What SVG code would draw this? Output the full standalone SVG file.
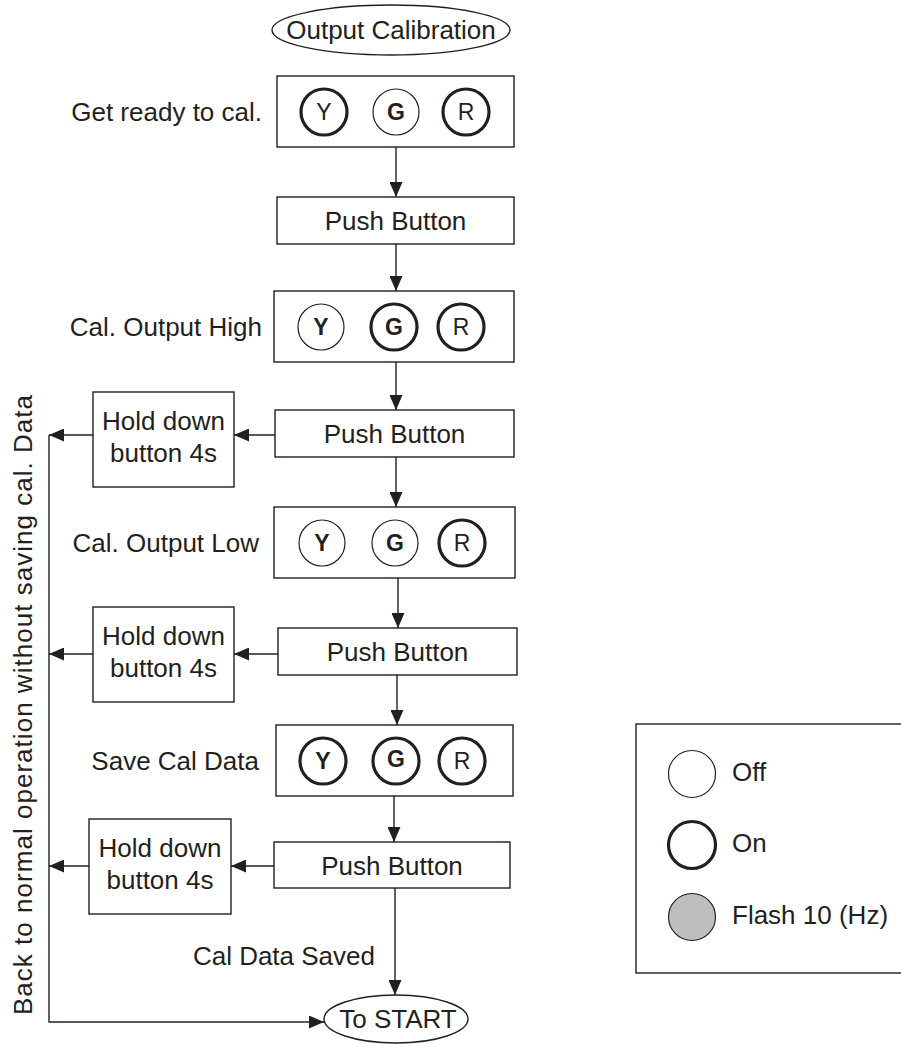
<svg xmlns="http://www.w3.org/2000/svg" width="901" height="1044" viewBox="0 0 901 1044">
<defs>
<style>
.bx{fill:#fff;stroke:#231f20;stroke-width:1.4}
.t{font-family:"Liberation Sans",Arial,sans-serif;font-size:26px;fill:#231f20}
.m{text-anchor:middle}
.e{text-anchor:end}
.off{fill:#fff;stroke:#231f20;stroke-width:1.2}
.on{fill:#fff;stroke:#231f20;stroke-width:3.2}
.fl{fill:#bcbec0;stroke:#231f20;stroke-width:1.2}
.cl{font-family:"Liberation Sans",Arial,sans-serif;font-size:23px;fill:#231f20;text-anchor:middle}
.b{font-weight:bold}
.ln{fill:none;stroke:#231f20;stroke-width:1.4}
</style>
<marker id="ah" markerWidth="15" markerHeight="13" refX="15" refY="6.5" orient="auto" markerUnits="userSpaceOnUse">
<path d="M0,0 L15,6.5 L0,13 Z" fill="#231f20"/>
</marker>
</defs>
<rect width="901" height="1044" fill="#fff"/>

<g id="start">
<ellipse cx="391" cy="30" rx="119" ry="25" class="bx"/>
<text x="391" y="39" class="t m">Output Calibration</text>
</g>

<g id="ready">
<text x="262" y="121" class="t e">Get ready to cal.</text>
<rect x="277" y="76" width="237" height="71" class="bx"/>
<circle cx="324" cy="112" r="23" class="on"/><text x="324" y="120" class="cl">Y</text>
<circle cx="396" cy="112" r="23" class="off"/><text x="396" y="120" class="cl b">G</text>
<circle cx="466" cy="112" r="23" class="on"/><text x="466" y="120" class="cl">R</text>
</g>

<g id="push1">
<rect x="277" y="197" width="237" height="47" class="bx"/>
<text x="395.5" y="230" class="t m">Push Button</text>
</g>

<g id="high">
<text x="262" y="336" class="t e">Cal. Output High</text>
<rect x="274" y="291" width="240" height="71" class="bx"/>
<circle cx="321" cy="327" r="23" class="off"/><text x="321" y="335" class="cl b">Y</text>
<circle cx="394" cy="327" r="23" class="on"/><text x="394" y="335" class="cl b">G</text>
<circle cx="461" cy="327" r="23" class="on"/><text x="461" y="335" class="cl">R</text>
</g>

<g id="push2">
<rect x="275" y="410" width="239" height="47" class="bx"/>
<text x="394.5" y="443" class="t m">Push Button</text>
</g>

<g id="hold1">
<rect x="93" y="392" width="141" height="95" class="bx"/>
<text x="163.5" y="430" class="t m">Hold down</text>
<text x="163.5" y="462" class="t m">button 4s</text>
</g>

<g id="low">
<text x="259" y="552" class="t e">Cal. Output Low</text>
<rect x="274" y="507" width="241" height="71" class="bx"/>
<circle cx="322" cy="543" r="23" class="off"/><text x="322" y="551" class="cl b">Y</text>
<circle cx="395" cy="543" r="23" class="off"/><text x="395" y="551" class="cl b">G</text>
<circle cx="462" cy="543" r="23" class="on"/><text x="462" y="551" class="cl">R</text>
</g>

<g id="push3">
<rect x="278" y="628" width="239" height="47" class="bx"/>
<text x="397.5" y="661" class="t m">Push Button</text>
</g>

<g id="hold2">
<rect x="93" y="607" width="141" height="95" class="bx"/>
<text x="163.5" y="645" class="t m">Hold down</text>
<text x="163.5" y="677" class="t m">button 4s</text>
</g>

<g id="save">
<text x="259" y="770" class="t e">Save Cal Data</text>
<rect x="276" y="725" width="237" height="71" class="bx"/>
<circle cx="323" cy="761" r="23" class="on"/><text x="323" y="769" class="cl b">Y</text>
<circle cx="396" cy="761" r="23" class="on"/><text x="396" y="767" class="cl b">G</text>
<circle cx="462" cy="761" r="23" class="on"/><text x="462" y="769" class="cl">R</text>
</g>

<g id="push4">
<rect x="274" y="842" width="236" height="46" class="bx"/>
<text x="392" y="875" class="t m">Push Button</text>
</g>

<g id="hold3">
<rect x="89" y="819" width="142" height="95" class="bx"/>
<text x="160" y="857" class="t m">Hold down</text>
<text x="160" y="889" class="t m">button 4s</text>
</g>

<g id="end">
<ellipse cx="396" cy="1019" rx="72" ry="24" class="bx"/>
<text x="398" y="1028" class="t m">To START</text>
</g>

<g id="connectors">
<line x1="396" y1="147" x2="396" y2="197" class="ln" marker-end="url(#ah)"/>
<line x1="396" y1="244" x2="396" y2="291" class="ln" marker-end="url(#ah)"/>
<line x1="396" y1="362" x2="396" y2="410" class="ln" marker-end="url(#ah)"/>
<line x1="396" y1="457" x2="396" y2="507" class="ln" marker-end="url(#ah)"/>
<line x1="398" y1="578" x2="398" y2="628" class="ln" marker-end="url(#ah)"/>
<line x1="397" y1="675" x2="397" y2="725" class="ln" marker-end="url(#ah)"/>
<line x1="394" y1="796" x2="394" y2="842" class="ln" marker-end="url(#ah)"/>
<line x1="395" y1="888" x2="395" y2="995" class="ln" marker-end="url(#ah)"/>
<line x1="275" y1="435" x2="234" y2="435" class="ln" marker-end="url(#ah)"/>
<line x1="93" y1="435" x2="49" y2="435" class="ln" marker-end="url(#ah)"/>
<line x1="278" y1="654" x2="234" y2="654" class="ln" marker-end="url(#ah)"/>
<line x1="93" y1="654" x2="49" y2="654" class="ln" marker-end="url(#ah)"/>
<line x1="274" y1="866" x2="231" y2="866" class="ln" marker-end="url(#ah)"/>
<line x1="89" y1="866" x2="49" y2="866" class="ln" marker-end="url(#ah)"/>
<polyline points="49,435 49,1022 324,1022" class="ln" marker-end="url(#ah)"/>
<text x="375" y="965" class="t e">Cal Data Saved</text>
<text transform="translate(32,1015) rotate(-90)" class="t" textLength="620" lengthAdjust="spacing">Back to normal operation without saving cal. Data</text>
</g>

<g id="legend">
<rect x="636" y="724" width="300" height="249" class="bx"/>
<circle cx="692" cy="774" r="23.5" class="off"/>
<text x="732" y="781" class="t">Off</text>
<circle cx="692" cy="845" r="23.5" class="on"/>
<text x="732" y="852" class="t">On</text>
<circle cx="692" cy="917" r="23.5" class="fl"/>
<text x="732" y="924" class="t">Flash 10 (Hz)</text>
</g>
</svg>
